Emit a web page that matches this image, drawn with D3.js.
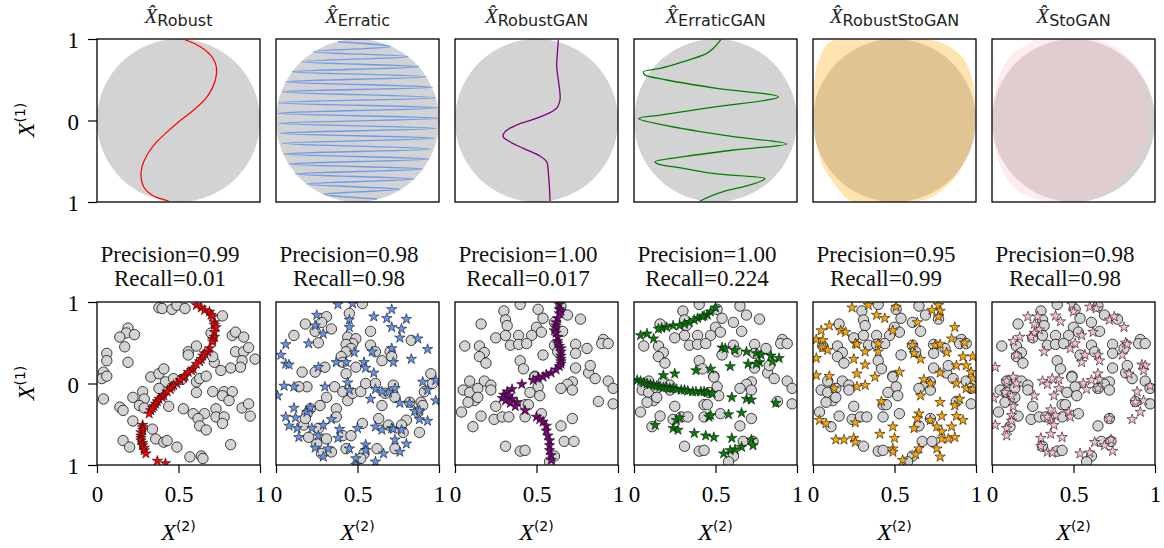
<!DOCTYPE html>
<html><head><meta charset="utf-8">
<script src="https://cdn.jsdelivr.net/npm/d3@7"></script>
<style>body{margin:0;background:#fff}</style>
</head><body>
<svg id="c" width="1164" height="548"></svg>
<script>
const names = ["Robust","Erratic","RobustGAN","ErraticGAN","RobustStoGAN","StoGAN"];
const colors = ["#ff0000","#6495ED","#800080","#008000","#FFA500","#FFC0CB"];
const precision = ["0.99","0.98","1.00","1.00","0.95","0.98"];
const recall = ["0.01","0.98","0.017","0.224","0.99","0.98"];
const xTicks = [0,0.5,1];
const xTickLabels = ["0","0.5","1"];
const yTicks = [1,0,-1];
const yTickLabels = ["1","0","1"];

const curveRobust = [[0.542,0.988],[0.634,0.906],[0.705,0.783],[0.732,0.66],[0.726,0.497],[0.675,0.29],[0.593,0.129],[0.511,0.0],[0.429,-0.143],[0.358,-0.28],[0.307,-0.423],[0.276,-0.567],[0.27,-0.689],[0.286,-0.812],[0.337,-0.914],[0.439,-0.988]];
const curveErratic = [[0.38,0.967],[0.70,0.906],[0.23,0.845],[0.81,0.783],[0.16,0.722],[0.875,0.66],[0.10,0.599],[0.92,0.538],[0.06,0.476],[0.96,0.407],[0.04,0.354],[0.977,0.28],[0.016,0.219],[0.99,0.157],[0.012,0.088],[0.99,0.027],[0.016,-0.035],[0.983,-0.096],[0.027,-0.157],[0.971,-0.219],[0.037,-0.28],[0.946,-0.35],[0.047,-0.411],[0.936,-0.472],[0.078,-0.534],[0.90,-0.595],[0.119,-0.656],[0.844,-0.718],[0.19,-0.779],[0.762,-0.845],[0.293,-0.902],[0.62,-0.963]];
const curveRobustGAN = [[0.634,0.988],[0.628,0.824],[0.624,0.66],[0.634,0.497],[0.644,0.333],[0.644,0.252],[0.628,0.162],[0.583,0.096],[0.48,0.014],[0.378,-0.055],[0.307,-0.137],[0.296,-0.199],[0.337,-0.26],[0.419,-0.342],[0.521,-0.436],[0.562,-0.505],[0.573,-0.648],[0.579,-0.812],[0.583,-0.988]];
const curveErraticGAN = [[0.532,0.988],[0.487,0.886],[0.446,0.824],[0.303,0.722],[0.16,0.64],[0.057,0.599],[0.067,0.558],[0.2,0.497],[0.507,0.395],[0.886,0.29],[0.507,0.169],[0.16,0.067],[0.027,0.027],[0.18,-0.055],[0.61,-0.199],[0.937,-0.288],[0.61,-0.362],[0.303,-0.444],[0.129,-0.505],[0.149,-0.534],[0.303,-0.587],[0.507,-0.656],[0.804,-0.709],[0.712,-0.791],[0.548,-0.873],[0.405,-0.988]];
const regionRobustStoGAN = [[0.247,1.0],[0.697,1.0],[0.82,0.926],[0.922,0.763],[0.973,0.538],[0.994,0.252],[0.988,-0.157],[0.953,-0.403],[0.882,-0.669],[0.779,-0.873],[0.677,-0.976],[0.247,-1.0],[0.145,-0.812],[0.053,-0.525],[0.012,-0.157],[0.006,0.334],[0.022,0.66],[0.063,0.865],[0.104,0.967]];
const regionStoGAN = [[0.254,0.99],[0.622,1.0],[0.785,0.865],[0.908,0.579],[0.965,0.252],[0.959,-0.157],[0.888,-0.525],[0.765,-0.812],[0.601,-0.98],[0.294,-0.98],[0.131,-0.812],[0.045,-0.525],[0.008,-0.157],[0.012,0.252],[0.049,0.579],[0.131,0.824],[0.233,0.95]];

const realA = [[0.38,0.93],[0.40,0.92],[0.46,0.91],[0.49,0.96],[0.54,0.92],[0.77,0.83],[0.19,0.68],[0.18,0.62],[0.14,0.57],[0.23,0.60],[0.17,0.45],[0.06,0.37],[0.06,0.28],[0.19,0.26],[0.70,0.62],[0.83,0.59],[0.85,0.63],[0.90,0.57],[0.56,0.39],[0.61,0.46],[0.56,0.35],[0.72,0.26],[0.71,0.33],[0.85,0.39],[0.90,0.39],[0.93,0.44],[0.97,0.30],[0.89,0.28],[0.88,0.20],[0.82,0.19],[0.76,0.16],[0.04,0.14],[0.03,0.06],[0.06,0.09],[0.33,0.08],[0.38,0.12],[0.41,0.18],[0.42,0.02],[0.47,0.06],[0.38,-0.06],[0.52,0.05],[0.61,0.02],[0.63,0.06],[0.67,0.09],[0.61,-0.11],[0.71,-0.10],[0.78,-0.10],[0.83,-0.10],[0.77,-0.15],[0.81,-0.21],[0.28,-0.10],[0.22,-0.17],[0.29,-0.19],[0.04,-0.19],[0.14,-0.29],[0.16,-0.33],[0.26,-0.27],[0.29,-0.30],[0.44,-0.28],[0.53,-0.31],[0.59,-0.37],[0.66,-0.37],[0.73,-0.31],[0.73,-0.41],[0.78,-0.41],[0.77,-0.49],[0.62,-0.43],[0.63,-0.52],[0.67,-0.57],[0.89,-0.30],[0.93,-0.25],[0.94,-0.40],[0.34,-0.56],[0.22,-0.46],[0.16,-0.70],[0.20,-0.78],[0.36,-0.68],[0.41,-0.72],[0.43,-0.70],[0.49,-0.78],[0.82,-0.75],[0.57,-0.90],[0.64,-0.89],[0.65,-0.92]];
const realB = [[0.53,0.98],[0.45,0.86],[0.31,0.82],[0.18,0.73],[0.34,0.67],[0.24,0.64],[0.11,0.59],[0.26,0.50],[0.44,0.57],[0.49,0.55],[0.47,0.49],[0.43,0.48],[0.46,0.43],[0.43,0.39],[0.58,0.64],[0.58,0.47],[0.61,0.39],[0.70,0.39],[0.65,0.28],[0.83,0.53],[0.40,0.33],[0.41,0.26],[0.30,0.20],[0.24,0.14],[0.16,0.14],[0.49,0.20],[0.19,-0.04],[0.14,-0.04],[0.36,-0.04],[0.31,-0.17],[0.41,-0.10],[0.44,-0.21],[0.47,-0.12],[0.52,-0.10],[0.55,0.00],[0.72,-0.02],[0.73,-0.17],[0.67,-0.12],[0.95,0.12],[0.96,0.00],[0.91,-0.10],[0.89,-0.23],[0.87,-0.35],[0.27,-0.27],[0.21,-0.31],[0.37,-0.31],[0.37,-0.41],[0.19,-0.37],[0.17,-0.51],[0.18,-0.43],[0.26,-0.55],[0.20,-0.66],[0.25,-0.74],[0.28,-0.86],[0.34,-0.84],[0.31,-0.68],[0.41,-0.64],[0.46,-0.64],[0.53,-0.49],[0.63,-0.43],[0.69,-0.51],[0.80,-0.45],[0.77,-0.51],[0.88,-0.60],[0.73,-0.80],[0.62,-0.80],[0.54,-0.86],[0.52,-0.92],[0.82,-0.23],[0.90,-0.27],[0.28,0.75],[0.61,0.00],[0.65,-0.27],[0.78,-0.60],[0.43,0.12],[0.71,0.33],[0.43,-0.80]];
const realC = [[0.30,0.89],[0.40,0.97],[0.51,0.91],[0.54,0.80],[0.65,0.95],[0.69,0.84],[0.77,0.79],[0.61,0.75],[0.66,0.64],[0.16,0.73],[0.31,0.78],[0.32,0.71],[0.50,0.69],[0.53,0.63],[0.39,0.59],[0.47,0.59],[0.25,0.56],[0.31,0.59],[0.34,0.47],[0.39,0.48],[0.44,0.49],[0.06,0.46],[0.15,0.46],[0.18,0.38],[0.15,0.33],[0.19,0.25],[0.40,0.28],[0.42,0.18],[0.54,0.35],[0.61,0.47],[0.74,0.48],[0.74,0.37],[0.81,0.43],[0.91,0.54],[0.90,0.49],[0.94,0.49],[0.74,0.19],[0.82,0.13],[0.83,0.22],[0.86,0.06],[0.94,0.03],[0.97,-0.06],[0.49,0.09],[0.51,-0.04],[0.46,-0.11],[0.52,-0.15],[0.72,0.02],[0.69,-0.01],[0.65,-0.06],[0.72,-0.08],[0.88,-0.22],[0.97,-0.25],[0.09,0.03],[0.18,0.03],[0.22,-0.02],[0.22,-0.08],[0.05,-0.08],[0.09,-0.11],[0.14,-0.06],[0.12,-0.21],[0.08,-0.23],[0.04,-0.35],[0.16,-0.40],[0.25,-0.28],[0.24,-0.44],[0.29,-0.41],[0.33,-0.41],[0.43,-0.26],[0.45,-0.26],[0.43,-0.41],[0.53,-0.37],[0.72,-0.43],[0.65,-0.52],[0.11,-0.53],[0.31,-0.77],[0.40,-0.83],[0.43,-0.82],[0.67,-0.71],[0.73,-0.71],[0.61,-0.89],[0.58,-0.96],[0.63,0.39],[0.14,-0.17],[0.49,0.08]];

const starsRobust = [[0.61,0.96],[0.64,0.93],[0.66,0.90],[0.69,0.88],[0.70,0.84],[0.71,0.82],[0.72,0.75],[0.72,0.72],[0.73,0.69],[0.72,0.63],[0.72,0.57],[0.71,0.54],[0.71,0.51],[0.69,0.43],[0.68,0.39],[0.66,0.37],[0.65,0.34],[0.64,0.30],[0.63,0.27],[0.61,0.24],[0.59,0.18],[0.58,0.16],[0.56,0.14],[0.54,0.09],[0.53,0.07],[0.51,0.04],[0.49,0.00],[0.47,-0.02],[0.46,-0.04],[0.45,-0.07],[0.43,-0.10],[0.41,-0.15],[0.40,-0.17],[0.38,-0.19],[0.37,-0.22],[0.36,-0.25],[0.35,-0.28],[0.34,-0.30],[0.33,-0.33],[0.32,-0.37],[0.28,-0.51],[0.28,-0.54],[0.28,-0.57],[0.27,-0.60],[0.27,-0.64],[0.27,-0.67],[0.27,-0.70],[0.28,-0.73],[0.28,-0.76],[0.29,-0.79],[0.29,-0.82],[0.30,-0.86],[0.37,-0.95],[0.42,-0.98]];
const starsErratic = [[0.38,0.97],[0.47,0.98],[0.25,0.84],[0.24,0.71],[0.29,0.61],[0.45,0.78],[0.45,0.69],[0.20,0.49],[0.06,0.48],[0.03,0.35],[0.06,0.24],[0.08,0.23],[0.26,0.20],[0.37,0.26],[0.43,0.26],[0.48,0.38],[0.54,0.26],[0.55,0.19],[0.60,0.13],[0.59,0.39],[0.60,0.82],[0.71,0.91],[0.68,0.80],[0.71,0.69],[0.80,0.79],[0.77,0.67],[0.76,0.56],[0.87,0.55],[0.71,0.43],[0.72,0.26],[0.83,0.30],[0.93,0.42],[0.90,0.02],[0.98,0.04],[0.93,-0.08],[0.98,-0.21],[0.73,-0.06],[0.69,-0.11],[0.61,-0.07],[0.65,-0.10],[0.58,-0.19],[0.44,0.01],[0.45,-0.08],[0.30,-0.04],[0.05,-0.03],[0.11,-0.04],[0.01,-0.15],[0.11,-0.30],[0.06,-0.41],[0.12,-0.42],[0.19,-0.35],[0.21,-0.30],[0.08,-0.52],[0.13,-0.55],[0.22,-0.55],[0.14,-0.66],[0.26,-0.64],[0.29,-0.51],[0.34,-0.44],[0.39,-0.56],[0.38,-0.67],[0.50,-0.55],[0.76,-0.24],[0.82,-0.24],[0.85,-0.34],[0.88,-0.33],[0.88,-0.44],[0.93,-0.46],[0.71,-0.55],[0.65,-0.57],[0.72,-0.56],[0.77,-0.57],[0.73,-0.69],[0.80,-0.74],[0.61,-0.53],[0.24,-0.79],[0.32,-0.80],[0.29,-0.90],[0.45,-0.80],[0.49,-0.92],[0.55,-0.75],[0.55,-0.82],[0.66,-0.86],[0.76,-0.84],[0.61,-0.96],[0.49,-1.00]];
const starsRobustGAN = [[0.64,0.97],[0.64,0.91],[0.65,0.89],[0.64,0.86],[0.63,0.80],[0.62,0.75],[0.62,0.71],[0.62,0.68],[0.61,0.65],[0.62,0.62],[0.63,0.57],[0.63,0.52],[0.63,0.49],[0.64,0.46],[0.65,0.43],[0.65,0.39],[0.65,0.34],[0.65,0.30],[0.65,0.27],[0.65,0.24],[0.64,0.21],[0.62,0.17],[0.59,0.13],[0.56,0.11],[0.54,0.08],[0.51,0.07],[0.48,0.04],[0.41,-0.01],[0.35,-0.07],[0.32,-0.10],[0.30,-0.14],[0.33,-0.15],[0.29,-0.18],[0.35,-0.19],[0.31,-0.21],[0.38,-0.23],[0.34,-0.24],[0.37,-0.28],[0.43,-0.33],[0.50,-0.41],[0.52,-0.44],[0.54,-0.47],[0.56,-0.52],[0.56,-0.58],[0.57,-0.64],[0.58,-0.70],[0.58,-0.76],[0.58,-0.82],[0.59,-0.88],[0.59,-0.94]];
const starsErraticGAN = [[0.50,0.93],[0.47,0.88],[0.45,0.84],[0.43,0.83],[0.42,0.82],[0.39,0.80],[0.37,0.78],[0.34,0.75],[0.31,0.73],[0.28,0.71],[0.24,0.71],[0.20,0.69],[0.17,0.68],[0.15,0.67],[0.08,0.61],[0.04,0.59],[0.12,0.55],[0.54,0.44],[0.56,0.43],[0.62,0.41],[0.69,0.39],[0.75,0.37],[0.78,0.35],[0.84,0.34],[0.89,0.31],[0.85,0.27],[0.77,0.26],[0.75,0.24],[0.70,0.24],[0.59,0.21],[0.02,0.04],[0.04,0.03],[0.06,0.01],[0.08,0.00],[0.10,-0.01],[0.12,-0.02],[0.14,-0.03],[0.16,-0.04],[0.18,-0.05],[0.20,-0.05],[0.22,-0.06],[0.24,-0.06],[0.26,-0.07],[0.29,-0.08],[0.31,-0.08],[0.33,-0.09],[0.36,-0.10],[0.38,-0.10],[0.41,-0.10],[0.43,-0.10],[0.45,-0.11],[0.48,-0.12],[0.18,0.10],[0.25,0.12],[0.38,0.16],[0.47,0.18],[0.60,-0.17],[0.69,-0.19],[0.72,-0.20],[0.87,-0.24],[0.13,-0.51],[0.26,-0.45],[0.28,-0.42],[0.24,-0.55],[0.27,-0.57],[0.46,-0.41],[0.47,-0.39],[0.58,-0.38],[0.66,-0.36],[0.37,-0.61],[0.44,-0.64],[0.49,-0.66],[0.60,-0.67],[0.72,-0.69],[0.73,-0.76],[0.66,-0.78],[0.62,-0.81],[0.59,-0.82],[0.55,-0.86]];
const starsRobustStoGAN = [[0.24,0.93],[0.34,0.96],[0.51,0.94],[0.39,0.84],[0.44,0.80],[0.64,0.75],[0.77,0.96],[0.78,0.89],[0.73,0.90],[0.77,0.82],[0.87,0.69],[0.85,0.55],[0.93,0.50],[0.10,0.71],[0.05,0.65],[0.17,0.65],[0.20,0.63],[0.02,0.54],[0.06,0.53],[0.06,0.44],[0.09,0.41],[0.26,0.49],[0.27,0.48],[0.32,0.39],[0.40,0.49],[0.40,0.39],[0.49,0.65],[0.61,0.47],[0.62,0.37],[0.66,0.30],[0.75,0.47],[0.78,0.48],[0.82,0.38],[0.25,0.30],[0.32,0.23],[0.02,0.31],[0.92,0.33],[0.88,0.22],[0.94,0.22],[0.98,0.33],[0.97,0.14],[0.98,0.06],[0.27,0.12],[0.38,0.08],[0.53,0.14],[0.78,0.13],[0.68,0.05],[0.72,0.00],[0.02,0.10],[0.10,0.09],[0.13,-0.06],[0.27,-0.04],[0.32,-0.02],[0.66,-0.15],[0.88,0.00],[0.94,-0.06],[0.98,-0.07],[0.90,-0.19],[0.87,-0.27],[0.42,-0.22],[0.78,-0.23],[0.65,-0.37],[0.64,-0.43],[0.72,-0.45],[0.79,-0.40],[0.88,-0.40],[0.92,-0.45],[0.04,-0.45],[0.08,-0.49],[0.26,-0.48],[0.49,-0.53],[0.62,-0.55],[0.76,-0.53],[0.79,-0.59],[0.85,-0.53],[0.41,-0.62],[0.50,-0.67],[0.79,-0.68],[0.83,-0.68],[0.87,-0.66],[0.14,-0.69],[0.19,-0.69],[0.25,-0.67],[0.26,-0.72],[0.49,-0.80],[0.49,-0.84],[0.65,-0.80],[0.63,-0.87],[0.76,-0.80],[0.78,-0.90],[0.55,-0.94]];
const starsStoGAN = [[0.49,0.97],[0.50,0.88],[0.60,0.94],[0.64,0.92],[0.72,0.78],[0.75,0.82],[0.81,0.69],[0.22,0.82],[0.28,0.82],[0.39,0.83],[0.42,0.76],[0.26,0.73],[0.29,0.66],[0.26,0.62],[0.24,0.57],[0.17,0.57],[0.13,0.52],[0.15,0.35],[0.32,0.39],[0.48,0.43],[0.51,0.49],[0.55,0.59],[0.62,0.63],[0.65,0.35],[0.66,0.28],[0.57,0.35],[0.55,0.26],[0.82,0.50],[0.83,0.48],[0.80,0.35],[0.02,0.20],[0.84,0.12],[0.92,0.23],[0.94,0.22],[0.93,0.16],[0.97,-0.03],[0.89,-0.10],[0.93,-0.21],[0.88,-0.23],[0.91,-0.35],[0.86,-0.44],[0.65,0.12],[0.61,0.04],[0.66,0.05],[0.65,-0.06],[0.56,0.00],[0.58,-0.07],[0.41,0.05],[0.37,0.06],[0.31,0.03],[0.34,-0.01],[0.41,-0.06],[0.38,-0.15],[0.26,-0.15],[0.13,0.08],[0.09,0.03],[0.15,0.00],[0.08,-0.11],[0.12,-0.15],[0.01,-0.18],[0.13,-0.28],[0.72,-0.43],[0.36,-0.32],[0.36,-0.45],[0.39,-0.39],[0.47,-0.35],[0.48,-0.41],[0.34,-0.41],[0.38,-0.51],[0.36,-0.62],[0.43,-0.66],[0.30,-0.67],[0.30,-0.77],[0.34,-0.84],[0.37,-0.85],[0.02,-0.51],[0.09,-0.55],[0.09,-0.64],[0.12,-0.39],[0.12,-0.46],[0.54,-0.86],[0.60,-0.85],[0.63,-0.72],[0.69,-0.76],[0.73,-0.69],[0.74,-0.83]];

const topCurves = [curveRobust, curveErratic, curveRobustGAN, curveErraticGAN, null, null];
const topRegions = [null, null, null, null, regionRobustStoGAN, regionStoGAN];
const realSets = [realA, realB, realC, realC, realC, realC];
const starSets = [starsRobust, starsErratic, starsRobustGAN, starsErraticGAN, starsRobustStoGAN, starsStoGAN];

// ---------- layout ----------
const W = 163, left0 = 97, step = 179, topY = 39, botY = 302;
const serif = "Liberation Serif, Times New Roman, DejaVu Serif, serif";
const sans = "DejaVu Sans, sans-serif";
const svg = d3.select("#c");
const x = d3.scaleLinear().domain([0,1]).range([0,W]);
const y = d3.scaleLinear().domain([-1,1]).range([W,0]);
svg.append("defs").append("clipPath").attr("id","clip")
  .append("rect").attr("width",W).attr("height",W);

const lineMono = d3.line().x(d=>x(d[0])).y(d=>y(d[1])).curve(d3.curveMonotoneY);
const lineSmooth = d3.line().x(d=>x(d[0])).y(d=>y(d[1])).curve(d3.curveCatmullRom.alpha(0.5));
const area = d3.line().x(d=>x(d[0])).y(d=>y(d[1])).curve(d3.curveCatmullRomClosed);
const lineGens = [lineSmooth, lineMono, lineSmooth, lineMono];
const lineWidths = [1.2, 1.4, 1.3, 1.3];

function styleAxis(g){
  g.select(".domain").remove();
  g.selectAll(".tick line").attr("stroke","#000").attr("stroke-width",1.2);
  g.selectAll(".tick text").style("font-family",serif).attr("font-size",23).attr("fill","#000");
}
function yAxis(g){
  g.call(d3.axisLeft(y).tickValues(yTicks).tickFormat((d,j)=>yTickLabels[j]).tickSize(9).tickSizeOuter(0));
  styleAxis(g);
  g.selectAll(".tick text").attr("x",-18).attr("dy",8.5);
}
function yLabel(cy){
  const t = svg.append("text").attr("transform",`translate(34,${cy}) rotate(-90)`).attr("text-anchor","middle");
  t.append("tspan").style("font-family",serif).attr("font-style","italic").attr("font-size",24).text("X");
  t.append("tspan").style("font-family",sans).attr("font-size",14).attr("dy",-9).text("(1)");
}

names.forEach((nm,i)=>{
  const px = left0 + i*step;
  // ---------- top row ----------
  const gt = svg.append("g").attr("transform",`translate(${px},${topY})`);
  const it = gt.append("g").attr("clip-path","url(#clip)");
  it.append("ellipse").attr("cx",x(0.5)).attr("cy",y(0))
    .attr("rx",x(1)-x(0.5)).attr("ry",y(-1)-y(0)).attr("fill","#d3d3d3");
  if (topRegions[i]) {
    it.append("path").datum(topRegions[i]).attr("d",area)
      .attr("fill",colors[i]).attr("fill-opacity",0.3).attr("stroke","none");
  }
  if (topCurves[i]) {
    it.append("path").datum(topCurves[i]).attr("d",lineGens[i])
      .attr("fill","none").attr("stroke",colors[i]).attr("stroke-width",lineWidths[i])
      .attr("stroke-opacity", i===1 ? 0.9 : 1);
  }
  gt.append("rect").attr("width",W).attr("height",W).attr("fill","none")
    .attr("stroke","#000").attr("stroke-width",1.3);
  if (i===0) yAxis(gt.append("g"));
  const tt = svg.append("text").attr("x",px+W/2).attr("y",23).attr("text-anchor","middle").attr("fill","#222");
  tt.append("tspan").style("font-family",serif).attr("font-style","italic").attr("font-size",21).text("X\u0302");
  tt.append("tspan").style("font-family",sans).attr("font-size",16).attr("dy",3).text(nm);

  // ---------- bottom row ----------
  const gb = svg.append("g").attr("transform",`translate(${px},${botY})`);
  const ib = gb.append("g").attr("clip-path","url(#clip)");
  ib.selectAll("circle").data(realSets[i]).join("circle")
    .attr("cx",d=>x(d[0])).attr("cy",d=>y(d[1])).attr("r",5.2)
    .attr("fill","#d3d3d3").attr("stroke","#111").attr("stroke-width",0.8);
  ib.selectAll("path.star").data(starSets[i]).join("path").attr("class","star")
    .attr("transform",d=>`translate(${x(d[0])},${y(d[1])})`)
    .attr("d",d3.symbol(d3.symbolStar).size(34))
    .attr("fill",colors[i]).attr("stroke","#111").attr("stroke-width",0.6);
  gb.append("rect").attr("width",W).attr("height",W).attr("fill","none")
    .attr("stroke","#000").attr("stroke-width",1.3);
  const xa = gb.append("g").attr("transform",`translate(0,${W})`);
  xa.call(d3.axisBottom(x).tickValues(xTicks).tickFormat((d,j)=>xTickLabels[j]).tickSize(8).tickSizeOuter(0));
  styleAxis(xa);
  xa.selectAll(".tick text").attr("y",37).attr("dy",0);
  if (i===0) yAxis(gb.append("g"));

  svg.append("text").attr("x",px+W/2-8.5).attr("y",261.5).attr("text-anchor","middle")
    .style("font-family",serif).attr("font-size",23).attr("fill","#111").text("Precision="+precision[i]);
  svg.append("text").attr("x",px+W/2-8.5).attr("y",286).attr("text-anchor","middle")
    .style("font-family",serif).attr("font-size",23).attr("fill","#111").text("Recall="+recall[i]);

  const xl = svg.append("text").attr("x",px+W/2).attr("y",540).attr("text-anchor","middle");
  xl.append("tspan").style("font-family",serif).attr("font-style","italic").attr("font-size",24).text("X");
  xl.append("tspan").style("font-family",sans).attr("font-size",14).attr("dy",-9).text("(2)");
});
yLabel(120);
yLabel(383);
</script>
</body></html>
